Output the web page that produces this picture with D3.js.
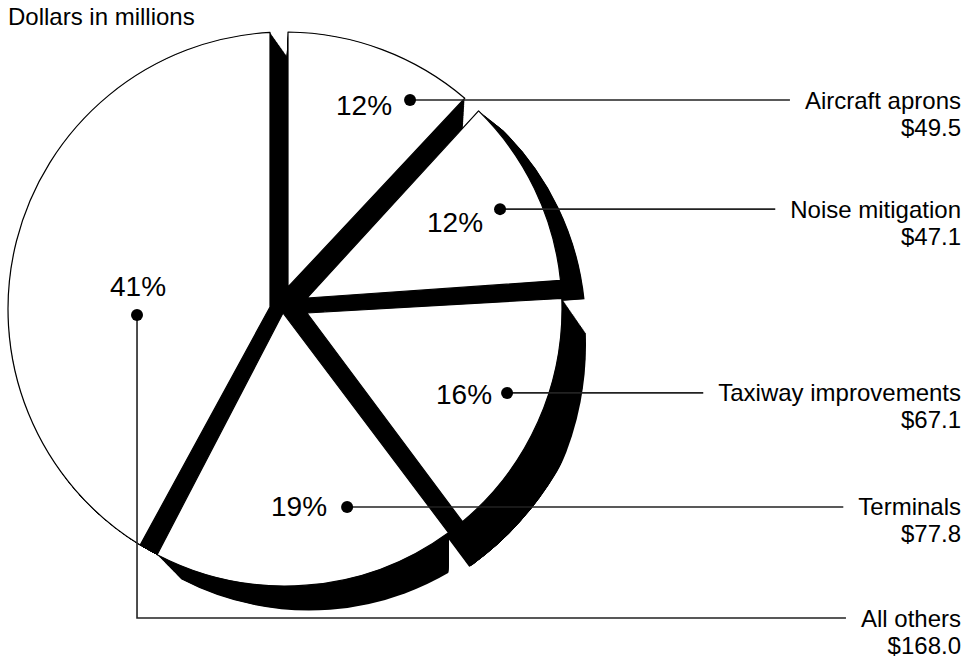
<!DOCTYPE html>
<html><head><meta charset="utf-8">
<script src="https://cdn.jsdelivr.net/npm/d3@7"></script>
<style>
html,body{margin:0;padding:0;background:#fff;}
svg{display:block;font-family:"Liberation Sans",Arial,Helvetica,sans-serif;}
</style></head><body>
<svg id="chart" width="972" height="660"></svg>
<script>
// ---------------- data ----------------
const categories = ["Aircraft aprons", "Noise mitigation", "Taxiway improvements", "Terminals", "All others"];
const values = [49.5, 47.1, 67.1, 77.8, 168.0];
const unitLabel = "Dollars in millions";

// ---------------- layout / style ----------------
const W = 972, H = 660;
const cx = 285, cy = 309, R = 277;                 // common rim circle
const explode = [[3,-22],[22,-11],[22,4],[-2,4],[-15,-2]];   // apex offsets of white slices
const edgeAdj = [[0,-0.4],[-1.0,1.1],[1.8,-0.6],[-0.9,-4.8],[-3.7,0]]; // degrees, drawing tweaks
// shadow sweep: offset (dx,dy), rim growth dr, optional clip circle (R+clipR), optional clip to slice x-span
const shadow = [
  {dx:-2, dy:34, dr:0},
  {dx:24, dy:19, dr:0},
  {dx:0,  dy:36, dr:24, clipR:40},
  {dx:24, dy:24.5, dr:0, clipX:true},
  {dx:17, dy:24, dr:0, clipR:0}
];
const hubRadius = 40;
const anchorFrac = [0.71, 0.521, 0.437, 0.273, 0.375];
const anchorRad  = [243.5, 237.1, 237.4, 207.5, 148.1];
const pctOffset  = [[-18,15,"end"],[-17,23,"end"],[-15,11,"end"],[-20,9,"end"],[1,-19,"middle"]];
const elbowY     = [null, null, null, null, 618];
const labelRight = 961, labelGap = 15, lineGap = 27;
const pctFont = 28, labelFont = 24;

const svg = d3.select("#chart");
svg.append("rect").attr("width", W).attr("height", H).attr("fill", "#fff");
const defs = svg.append("defs");

const total = d3.sum(values);
const arcs = d3.pie().sort(null).value(d => d)(values);
const rad = deg => deg * Math.PI / 180;

function dirOf(t){ return [Math.sin(t), -Math.cos(t)]; }
function rayCircle(px, py, t, ccx, ccy, r){
  const [dx, dy] = dirOf(t);
  const ox = px - ccx, oy = py - ccy;
  const b = ox*dx + oy*dy, c = ox*ox + oy*oy - r*r;
  const s = -b + Math.sqrt(b*b - c);
  return [px + s*dx, py + s*dy];
}
function slicePath(px, py, a0, a1, ccx, ccy, r){
  const p0 = rayCircle(px, py, a0, ccx, ccy, r), p1 = rayCircle(px, py, a1, ccx, ccy, r);
  const s0 = Math.atan2(p0[1]-ccy, p0[0]-ccx), s1 = Math.atan2(p1[1]-ccy, p1[0]-ccx);
  const p = d3.path();
  p.moveTo(px, py); p.lineTo(p0[0], p0[1]);
  p.arc(ccx, ccy, r, s0, s1, false);
  p.closePath();
  return p.toString();
}

const slices = arcs.map((a, i) => ({
  i,
  ax: cx + explode[i][0], ay: cy + explode[i][1],
  a0: a.startAngle + rad(edgeAdj[i][0]),
  a1: a.endAngle + rad(edgeAdj[i][1]),
  mid: a.startAngle + anchorFrac[i]*(a.endAngle - a.startAngle)
}));

// hub
svg.append("circle").attr("cx", cx).attr("cy", cy).attr("r", hubRadius).attr("fill", "#000");

// shadows (swept copies)
const gSh = svg.append("g");
slices.forEach(s => {
  const sh = shadow[s.i];
  let g = gSh.append("g");
  if (sh.clipR != null) {
    const id = "clipR" + s.i;
    defs.append("clipPath").attr("id", id)
      .append("circle").attr("cx", cx).attr("cy", cy).attr("r", R + sh.clipR);
    g.attr("clip-path", `url(#${id})`);
  }
  if (sh.clipX) {
    const p0 = rayCircle(s.ax, s.ay, s.a0, cx, cy, R), p1 = rayCircle(s.ax, s.ay, s.a1, cx, cy, R);
    const x0 = Math.min(p0[0], p1[0]), x1 = Math.max(p0[0], p1[0]);
    const id = "clipX" + s.i;
    defs.append("clipPath").attr("id", id)
      .append("rect").attr("x", x0).attr("y", 0).attr("width", x1 - x0).attr("height", H);
    g.attr("clip-path", `url(#${id})`);
  }
  const N = 40;
  d3.range(N + 1).forEach(k => {
    const t = k / N;
    g.append("path")
      .attr("d", slicePath(s.ax + t*sh.dx, s.ay + t*sh.dy, s.a0, s.a1, cx + t*sh.dx, cy + t*sh.dy, R + t*sh.dr))
      .attr("fill", "#000");
  });
});

// white slices
svg.append("g").selectAll("path").data(slices).join("path")
  .attr("d", s => slicePath(s.ax, s.ay, s.a0, s.a1, cx, cy, R))
  .attr("fill", "#fff").attr("stroke", "#000").attr("stroke-width", 1.2)
  .attr("stroke-linejoin", "round");

// title
svg.append("text").attr("x", 8).attr("y", 25).attr("font-size", labelFont).attr("fill", "#000").text(unitLabel);

// right labels + leaders
const gLab = svg.append("g");
slices.forEach(s => {
  const i = s.i;
  const [ux, uy] = dirOf(s.mid);
  const dx = cx + anchorRad[i]*ux, dy = cy + anchorRad[i]*uy;
  const ly = elbowY[i] == null ? dy : elbowY[i];

  const t1 = gLab.append("text").attr("x", labelRight).attr("y", ly + 8.5)
    .attr("text-anchor", "end").attr("font-size", labelFont).attr("fill", "#000").text(categories[i]);
  gLab.append("text").attr("x", labelRight).attr("y", ly + 8.5 + lineGap)
    .attr("text-anchor", "end").attr("font-size", labelFont).attr("fill", "#000").text("$" + values[i].toFixed(1));
  const lineEnd = labelRight - t1.node().getComputedTextLength() - labelGap;

  const p = d3.path();
  p.moveTo(dx, dy);
  if (elbowY[i] != null) p.lineTo(dx, ly);
  p.lineTo(lineEnd, ly);
  gLab.append("path").attr("d", p.toString()).attr("fill", "none")
    .attr("stroke", "#222").attr("stroke-width", 1.6);
  gLab.append("circle").attr("cx", dx).attr("cy", dy).attr("r", 6).attr("fill", "#000");

  const po = pctOffset[i];
  gLab.append("text").attr("x", dx + po[0]).attr("y", dy + po[1])
    .attr("text-anchor", po[2]).attr("font-size", pctFont).attr("fill", "#000")
    .text(Math.round(values[i] / total * 100) + "%");
});
</script>
</body></html>
